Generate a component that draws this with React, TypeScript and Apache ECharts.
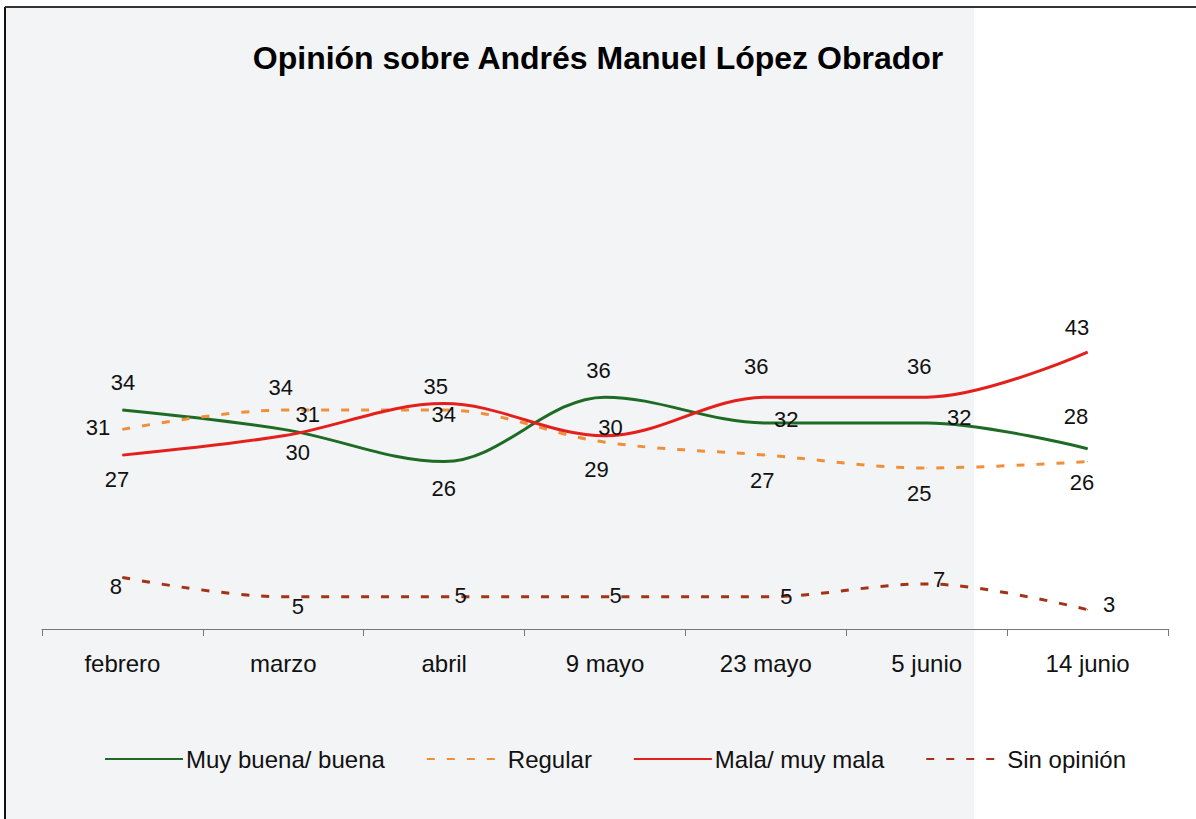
import React, { useEffect, useRef } from "react";
import * as echarts from "echarts";

const categories = ["febrero", "marzo", "abril", "9 mayo", "23 mayo", "5 junio", "14 junio"];
const seriesNames = ["Muy buena/ buena", "Regular", "Mala/ muy mala", "Sin opinión"];
const muyBuena = [34, 31, 26, 36, 32, 32, 28];
const regular = [31, 34, 34, 29, 27, 25, 26];
const mala = [27, 30, 35, 30, 36, 36, 43];
const sinOpinion = [8, 5, 5, 5, 5, 7, 3];

// label offsets (styling only), relative to each point
const offGreen = [[1, -27], [25, -14], [0, 27], [-6, -26], [21, -3], [33, -5], [-11, -32]];
const offOrange = [[-24, -1], [-2, -22], [0, 5], [-8, 28], [-3, 26], [-7, 26], [-5, 21]];
const offRed = [[-5, 25], [15, 17], [-8, -17], [6, -8], [-9, -30], [-7, -30], [-10, -24]];
const offSin = [[-6, 10], [15, 10], [17, -1], [11, -1], [21, 0], [13, -4], [22, -5]];

const FONT = "'Liberation Sans', Arial, sans-serif";

function mkData(vals: number[], offs: number[][]) {
  return vals.map((v, i) => ({
    value: v,
    label: {
      position: [offs[i][0], offs[i][1]],
      align: "center",
      verticalAlign: "middle",
    },
  }));
}

function mkSeries(name: string, vals: number[], offs: number[][], color: string, dashed: boolean, width: number) {
  return {
    name,
    type: "line",
    smooth: 0.35,
    data: mkData(vals, offs),
    symbol: "circle",
    symbolSize: 1,
    itemStyle: { color },
    lineStyle: { color, width, type: dashed ? [8, 12] : "solid" },
    label: {
      show: true,
      color: "#111",
      fontSize: 22,
      fontFamily: FONT,
    },
    emphasis: { disabled: true },
  };
}

export default function App() {
  const ref = useRef<HTMLDivElement>(null);
  useEffect(() => {
    const chart = echarts.init(ref.current!, null, { renderer: "svg" });
    chart.setOption({
      animation: false,
      backgroundColor: "#ffffff",
      graphic: [
        { type: "rect", shape: { x: 6, y: 7, width: 968, height: 812 }, style: { fill: "#f3f4f6" }, z: -10 },
        { type: "line", shape: { x1: 5, y1: 7, x2: 5, y2: 819 }, style: { stroke: "#111", lineWidth: 2 } },
        { type: "line", shape: { x1: 5, y1: 7, x2: 1196, y2: 7 }, style: { stroke: "#333", lineWidth: 2 } },
      ],
      title: {
        text: "Opinión sobre Andrés Manuel López Obrador",
        left: "center",
        top: 37,
        textStyle: { fontSize: 32, fontWeight: "bold", color: "#000", fontFamily: FONT },
      },
      legend: {
        bottom: 43,
        left: 99,
        itemWidth: 78,
        itemHeight: 14,
        itemGap: 41,
        itemStyle: { opacity: 0 },
        textStyle: { fontSize: 24, color: "#111", fontFamily: FONT, padding: [0, 0, 0, -2] },
        data: seriesNames,
      },
      grid: { left: 42, right: 28, top: 307, bottom: 190 },
      xAxis: {
        type: "category",
        data: categories,
        boundaryGap: true,
        axisLine: { lineStyle: { color: "#777", width: 1 } },
        axisTick: { show: true, length: 7, lineStyle: { color: "#777" } },
        axisLabel: { fontSize: 24, color: "#111", fontFamily: FONT, margin: 22 },
      },
      yAxis: {
        type: "value",
        min: 0,
        max: 50,
        show: false,
        splitLine: { show: false },
      },
      series: [
        mkSeries(seriesNames[0], muyBuena, offGreen, "#1d6b24", false, 3),
        mkSeries(seriesNames[1], regular, offOrange, "#ef8f3a", true, 3),
        mkSeries(seriesNames[2], mala, offRed, "#e4201c", false, 3),
        mkSeries(seriesNames[3], sinOpinion, offSin, "#a33216", true, 3),
      ],
    });
    return () => chart.dispose();
  }, []);
  return <div ref={ref} style={{ position: "fixed", left: 0, top: 0, width: 1196, height: 819 }} />;
}
